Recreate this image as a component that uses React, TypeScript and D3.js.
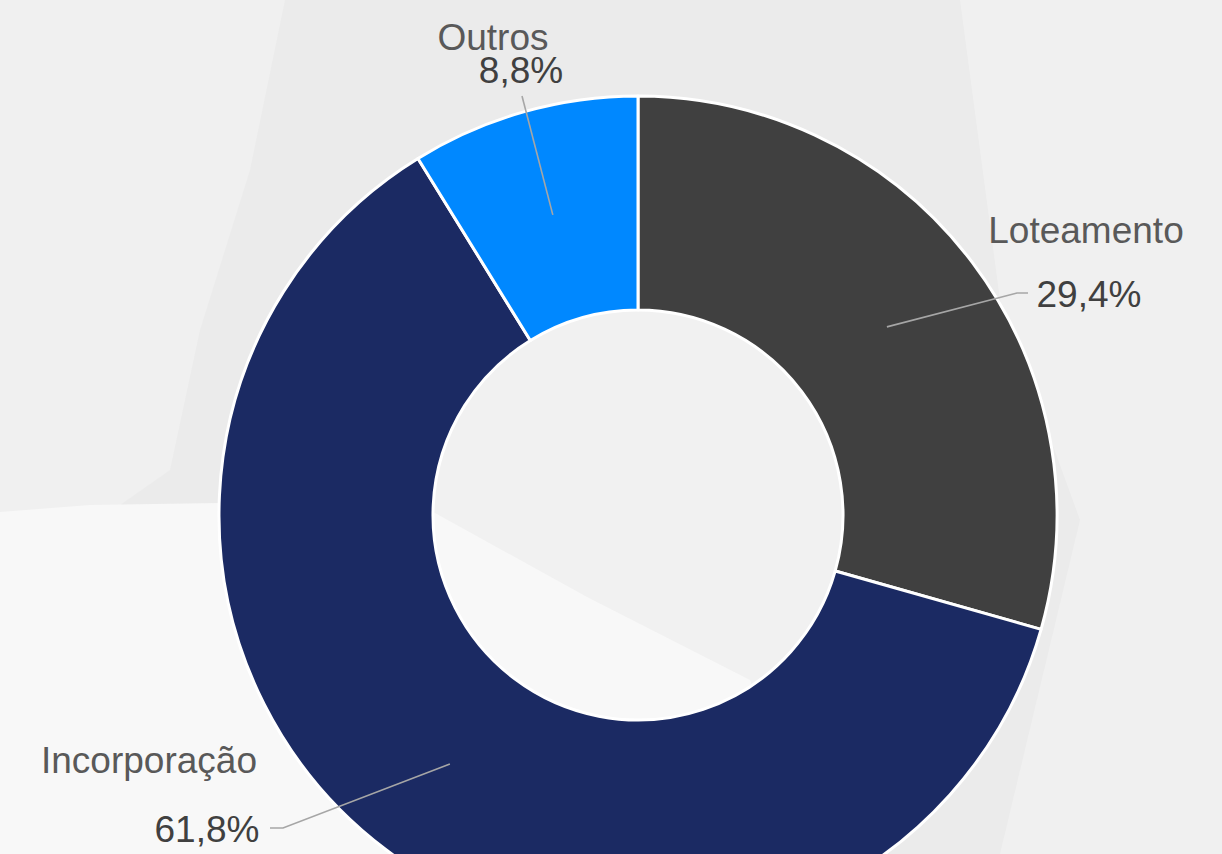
import React from "react";
import * as d3 from "d3";

const categories = ["Loteamento", "Incorporação", "Outros"];
const values = [29.4, 61.8, 8.8];
const valueLabels = ["29,4%", "61,8%", "8,8%"];
const colors = ["#404040", "#1b2a63", "#0088ff"];

const W = 1222;
const H = 854;
const cx = 638;
const cy = 515;
const outerR = 419;
const innerR = 205;

// label layout: name anchor, value anchor, leader elbow and end
const labelLayout = [
  { name: [1086, 243], value: [1089, 307], elbow: [1017, 293], end: [1028, 293] },
  { name: [149, 773], value: [207, 842], elbow: [283, 828], end: [270, 828] },
  { name: [493, 50], value: [521, 83], elbow: null, end: [522, 96] },
];

export default function App() {
  const pie = d3
    .pie<number>()
    .sort(null)
    .value((d) => d);
  const arcs = pie(values);
  const arc = d3.arc<d3.PieArcDatum<number>>().innerRadius(innerR).outerRadius(outerR);
  const midArc = d3
    .arc<d3.PieArcDatum<number>>()
    .innerRadius((innerR + outerR) / 2)
    .outerRadius((innerR + outerR) / 2);

  return (
    <svg
      width={W}
      height={H}
      style={{ position: "absolute", left: 0, top: 0, display: "block" }}
    >
      <rect x={0} y={0} width={W} height={H} fill="#f0f0f0" />
      {/* faint rock background */}
      <path
        d="M285,0 L960,0 L1000,300 L1080,520 L1000,854 L0,854 L0,520 L120,505 L170,470 L200,330 L250,170 Z"
        fill="#ebebeb"
      />
      <circle cx={cx} cy={cy} r={innerR} fill="#f1f1f1" />
      <path
        d="M0,512 L90,505 L220,503 L330,508 L435,513 L587,597 L750,680 L820,854 L0,854 Z"
        fill="#f8f8f8"
      />
      <g transform={`translate(${cx},${cy})`}>
        {arcs.map((a, i) => (
          <path
            key={categories[i]}
            d={arc(a) ?? ""}
            fill={colors[i]}
            stroke="#ffffff"
            strokeWidth={3}
            strokeLinejoin="round"
          />
        ))}
      </g>
      {arcs.map((a, i) => {
        const [mx, my] = midArc.centroid(a);
        const L = labelLayout[i];
        const pts: [number, number][] = [[cx + mx, cy + my]];
        if (L.elbow) pts.push(L.elbow as [number, number]);
        pts.push(L.end as [number, number]);
        return (
          <path
            key={"l" + i}
            d={d3.line()(pts) ?? ""}
            fill="none"
            stroke="#a6a6a6"
            strokeWidth={1.6}
          />
        );
      })}
      {categories.map((c, i) => {
        const L = labelLayout[i];
        return (
          <g
            key={"t" + i}
            fontFamily="'Liberation Sans', Arial, sans-serif"
            fontSize={37}
            textAnchor="middle"
          >
            <text x={L.name[0]} y={L.name[1]} fill="#595959">
              {c}
            </text>
            <text x={L.value[0]} y={L.value[1]} fill="#404040">
              {valueLabels[i]}
            </text>
          </g>
        );
      })}
    </svg>
  );
}
